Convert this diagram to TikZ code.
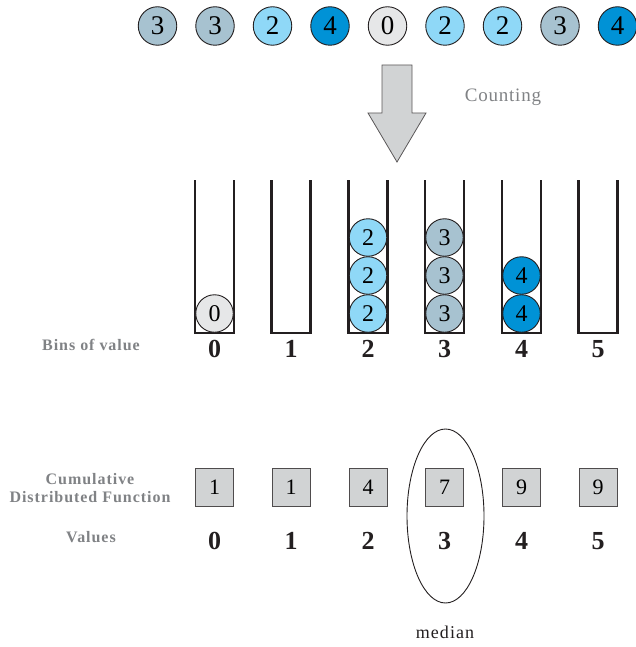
\documentclass[tikz,border=0pt]{standalone}
\usepackage{fontspec}
\setmainfont{Liberation Serif}
\usepackage{tikz}
\usepackage{xcolor}
\usetikzlibrary{positioning,shapes}

\definecolor{ballzero}{HTML}{E6E7E8}
\definecolor{balltwo}{HTML}{8FD8F7}
\definecolor{ballthree}{HTML}{A7C2D0}
\definecolor{ballfour}{HTML}{0092D6}
\definecolor{boxgray}{HTML}{D1D3D4}
\definecolor{labelgray}{HTML}{808285}
\definecolor{edgegray}{HTML}{231F20}

\begin{document}
\begin{tikzpicture}[x=1pt,y=1pt]
\tikzstyle{every node}+=[inner sep=0pt]
\tikzstyle{ball}=[circle, draw=edgegray, line width=0.9pt, minimum size=38.5pt, font=\fontsize{27}{27}\selectfont]
\tikzstyle{binball}=[ball, minimum size=37.5pt, font=\fontsize{24}{24}\selectfont]
\tikzstyle{bin}=[edgegray, line width=2.8pt]
\tikzstyle{num}=[font=\fontsize{26}{26}\selectfont\bfseries, text=edgegray]
\tikzstyle{cdf}=[rectangle, draw=edgegray!80, fill=boxgray, line width=1pt, minimum size=38pt, font=\fontsize{22}{22}\selectfont]
\tikzstyle{side}=[text=labelgray, align=center, font=\fontsize{16}{17.5}\selectfont\bfseries\addfontfeature{LetterSpace=6}]
\useasboundingbox (0,0) rectangle (636,-647);
% input values
\node [ball, fill=ballthree] (in1) at (157.5,-26) {3};
\node [ball, fill=ballthree] (in2) at (215,-26) {3};
\node [ball, fill=balltwo] (in3) at (272.5,-26) {2};
\node [ball, fill=ballfour] (in4) at (330,-26) {4};
\node [ball, fill=ballzero] (in5) at (387.5,-26) {0};
\node [ball, fill=balltwo] (in6) at (445,-26) {2};
\node [ball, fill=balltwo] (in7) at (502.5,-26) {2};
\node [ball, fill=ballthree] (in8) at (560,-26) {3};
\node [ball, fill=ballfour] (in9) at (617.5,-26) {4};
% counting arrow
\draw [fill=boxgray, draw=edgegray!75, line width=0.8pt] (382,-65) -- (412,-65) -- (412,-113) -- (426,-113) -- (397,-162) -- (368,-113) -- (382,-113) -- cycle;
\node [text=labelgray, font=\fontsize{19}{19}\selectfont\addfontfeature{LetterSpace=4}] (counting) at (503,-97) {Counting};
% bins
\draw [bin] (195,-180) -- (195,-333) -- (234,-333) -- (234,-180);
\draw [bin] (271.7,-180) -- (271.7,-333) -- (310.7,-333) -- (310.7,-180);
\draw [bin] (348.5,-180) -- (348.5,-333) -- (387.5,-333) -- (387.5,-180);
\draw [bin] (425,-180) -- (425,-333) -- (464,-333) -- (464,-180);
\draw [bin] (502,-180) -- (502,-333) -- (541,-333) -- (541,-180);
\draw [bin] (578.5,-180) -- (578.5,-333) -- (617.5,-333) -- (617.5,-180);
\node [binball, fill=ballzero] (z1) at (214.5,-313.5) {0};
\node [binball, fill=balltwo] (w1) at (368,-313.5) {2};
\node [binball, fill=balltwo] (w2) at (368,-275.5) {2};
\node [binball, fill=balltwo] (w3) at (368,-237.5) {2};
\node [binball, fill=ballthree] (r1) at (444.5,-313.5) {3};
\node [binball, fill=ballthree] (r2) at (444.5,-275.5) {3};
\node [binball, fill=ballthree] (r3) at (444.5,-237.5) {3};
\node [binball, fill=ballfour] (f1) at (521.5,-313.5) {4};
\node [binball, fill=ballfour] (f2) at (521.5,-275.5) {4};
\node [num] (bin0) at (214.5,-349) {0};
\node [num] (bin1) at (291.2,-349) {1};
\node [num] (bin2) at (368,-349) {2};
\node [num] (bin3) at (444.5,-349) {3};
\node [num] (bin4) at (521.5,-349) {4};
\node [num] (bin5) at (598,-349) {5};
\node [side] (binlabel) at (91,-345) {Bins of value};
% cumulative distribution
\node [cdf] (cdf0) at (214.5,-487) {1};
\node [cdf] (cdf1) at (291.2,-487) {1};
\node [cdf] (cdf2) at (368,-487) {4};
\node [cdf] (cdf3) at (444.5,-487) {7};
\node [cdf] (cdf4) at (521.5,-487) {9};
\node [cdf] (cdf5) at (598,-487) {9};
\node [num] (val0) at (214.5,-541) {0};
\node [num] (val1) at (291.2,-541) {1};
\node [num] (val2) at (368,-541) {2};
\node [num] (val3) at (444.5,-541) {3};
\node [num] (val4) at (521.5,-541) {4};
\node [num] (val5) at (598,-541) {5};
\node [side] (cdflabel) at (90,-488) {Cumulative\\Distributed Function};
\node [side] (vallabel) at (91,-537) {Values};
\node [ellipse, draw=edgegray, line width=0.9pt, minimum width=77pt, minimum height=174pt] (median) at (445.5,-516) {};
\node [text=edgegray, font=\fontsize{18}{18}\selectfont\addfontfeature{LetterSpace=6}] (medlabel) at (445,-632) {median};
\end{tikzpicture}
\end{document}
